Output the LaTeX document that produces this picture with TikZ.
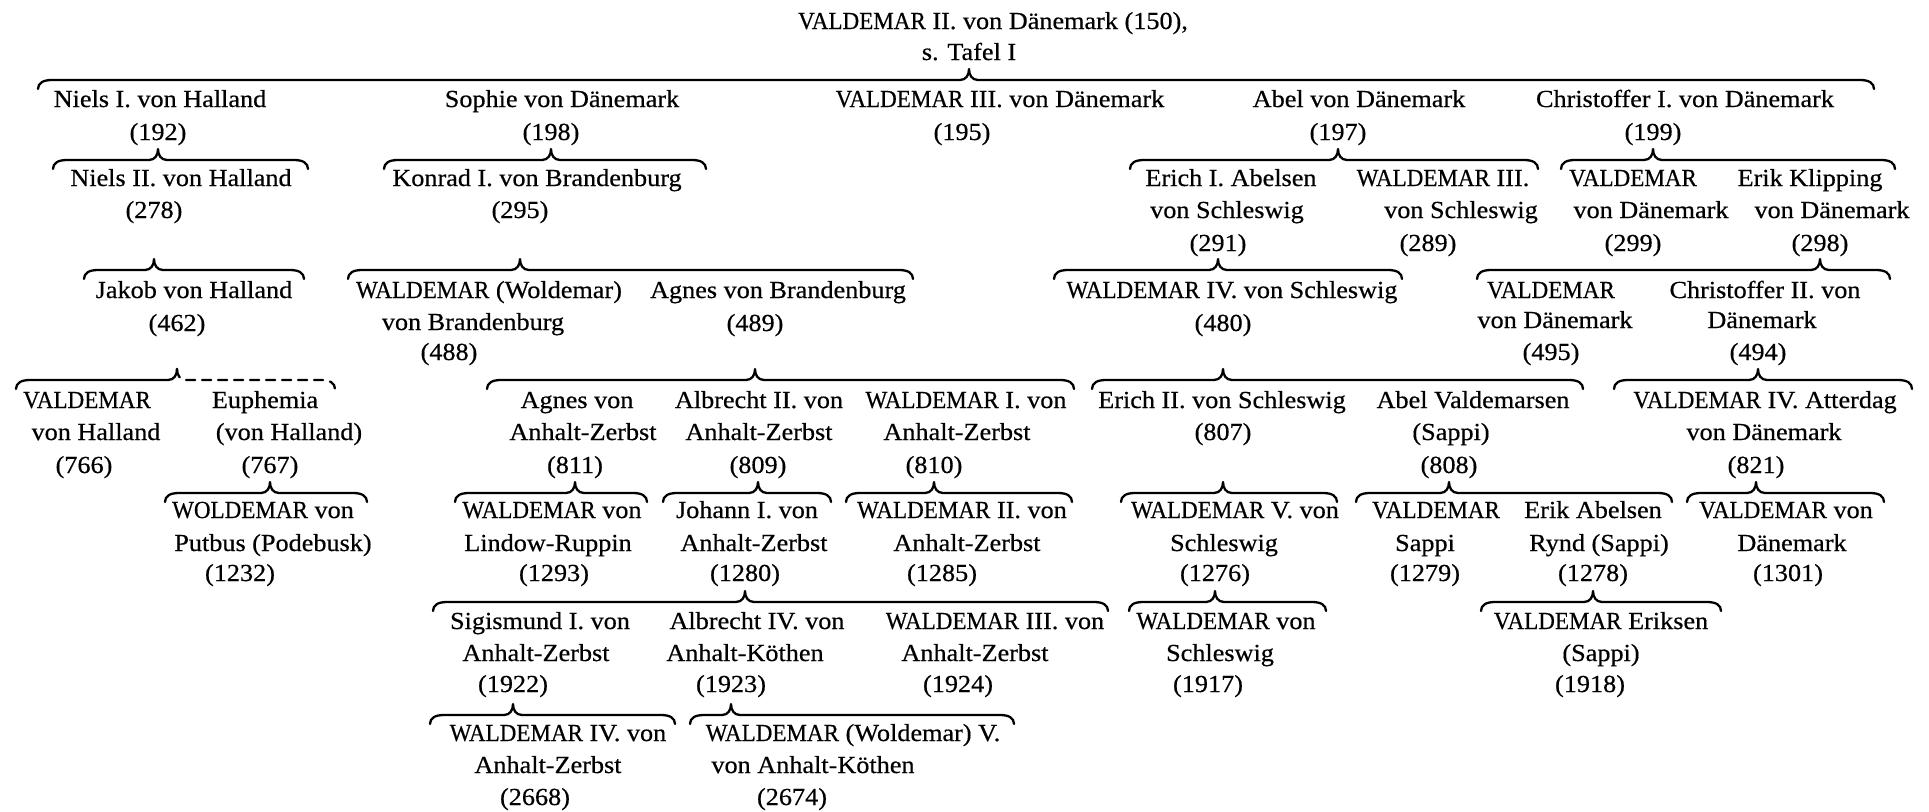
\documentclass[tikz,border=0pt]{standalone}
\usepackage{graphicx}
\usepackage{fontspec}
\setmainfont{Liberation Serif}[FakeStretch=1.07,FakeBold=0.5]
\usetikzlibrary{calc}
\newcommand\cw[1]{\scalebox{0.88}[1]{#1}}
\tikzset{
  t/.style={inner sep=0pt, text height=16pt, text depth=0pt, anchor=center, font=\fontsize{24.5}{29}\selectfont},
  br/.style={line width=2.3pt, line cap=round, line join=round},
  dsh/.style={br, dash pattern=on 9pt off 7pt}
}
\newcommand\brc[4]{\draw[br] (#1,#4+9) .. controls (#1,#4+3) and (#1+5,#4) .. (#1+14,#4) -- ($(#2 |- 0,#4)+(-9,0)$) .. controls +(6,0) and +(0,6) .. ($(#2 |- 0,#4)+(0,-11)$) .. controls +(0,6) and +(-6,0) .. ($(#2 |- 0,#4)+(9,0)$) -- (#3-14,#4) .. controls (#3-5,#4) and (#3,#4+3) .. (#3,#4+9);}
\begin{document}
\begin{tikzpicture}[x=1pt,y=-1pt]
\useasboundingbox (0,0) rectangle (1929,811);
% title
\node[t] (title) at (993,21) {\cw{VALDEMAR} II. von Dänemark (150),};
\node[t] (tafel) at (969,52) {s. Tafel I};
% row 1
\node[t] (niels1) at (160,99) {Niels I. von Halland};
\node[t] (n192) at (158,132) {(192)};
\node[t] (sophie) at (562,99) {Sophie von Dänemark};
\node[t] (n198) at (551,132) {(198)};
\node[t] (vald3) at (1000,99) {\cw{VALDEMAR} III. von Dänemark};
\node[t] (n195) at (962,132) {(195)};
\node[t] (abel) at (1359,99) {Abel von Dänemark};
\node[t] (n197) at (1338,132) {(197)};
\node[t] (chr1) at (1685,99) {Christoffer I. von Dänemark};
\node[t] (n199) at (1653,132) {(199)};
% row 2
\node[t] (niels2) at (181,178) {Niels II. von Halland};
\node[t] (n278) at (154,210) {(278)};
\node[t] (konrad) at (537,178) {Konrad I. von Brandenburg};
\node[t] (n295) at (520,210) {(295)};
\node[t] (erich1a) at (1231,178) {Erich I. Abelsen};
\node[t] (erich1b) at (1227,210) {von Schleswig};
\node[t] (n291) at (1218,243) {(291)};
\node[t] (w3sa) at (1443,178) {\cw{WALDEMAR} III.};
\node[t] (w3sb) at (1461,210) {von Schleswig};
\node[t] (n289) at (1428,243) {(289)};
\node[t] (v299a) at (1633,178) {\cw{VALDEMAR}};
\node[t] (v299b) at (1651,210) {von Dänemark};
\node[t] (n299) at (1633,243) {(299)};
\node[t] (erikka) at (1810,178) {Erik Klipping};
\node[t] (erikkb) at (1832,210) {von Dänemark};
\node[t] (n298) at (1820,243) {(298)};
% row 3
\node[t] (jakob) at (194,290) {Jakob von Halland};
\node[t] (n462) at (177,323) {(462)};
\node[t] (wolda) at (489,290) {\cw{WALDEMAR} (Woldemar)};
\node[t] (woldb) at (473,322) {von Brandenburg};
\node[t] (n488) at (449,352) {(488)};
\node[t] (agnesb) at (778,290) {Agnes von Brandenburg};
\node[t] (n489) at (755,323) {(489)};
\node[t] (w4s) at (1232,290) {\cw{WALDEMAR} IV. von Schleswig};
\node[t] (n480) at (1223,323) {(480)};
\node[t] (v495a) at (1551,290) {\cw{VALDEMAR}};
\node[t] (v495b) at (1555,320) {von Dänemark};
\node[t] (n495) at (1551,352) {(495)};
\node[t] (chr2a) at (1765,290) {Christoffer II. von};
\node[t] (chr2b) at (1762,320) {Dänemark};
\node[t] (n494) at (1758,352) {(494)};
% row 4
\node[t] (v766a) at (87,400) {\cw{VALDEMAR}};
\node[t] (v766b) at (96,432) {von Halland};
\node[t] (n766) at (84,465) {(766)};
\node[t] (eupha) at (265,400) {Euphemia};
\node[t] (euphb) at (289,432) {(von Halland)};
\node[t] (n767) at (270,465) {(767)};
\node[t] (agaa) at (577,400) {Agnes von};
\node[t] (agab) at (583,432) {Anhalt-Zerbst};
\node[t] (n811) at (575,465) {(811)};
\node[t] (alb2a) at (759,400) {Albrecht II. von};
\node[t] (alb2b) at (759,432) {Anhalt-Zerbst};
\node[t] (n809) at (758,465) {(809)};
\node[t] (w1a) at (966,400) {\cw{WALDEMAR} I. von};
\node[t] (w1b) at (957,432) {Anhalt-Zerbst};
\node[t] (n810) at (934,465) {(810)};
\node[t] (erich2) at (1222,400) {Erich II. von Schleswig};
\node[t] (n807) at (1223,432) {(807)};
\node[t] (abva) at (1473,400) {Abel Valdemarsen};
\node[t] (abvb) at (1451,432) {(Sappi)};
\node[t] (n808) at (1449,465) {(808)};
\node[t] (atta) at (1765,400) {\cw{VALDEMAR} IV. Atterdag};
\node[t] (attb) at (1764,432) {von Dänemark};
\node[t] (n821) at (1756,465) {(821)};
% row 5
\node[t] (puta) at (263,510) {\cw{WOLDEMAR} von};
\node[t] (putb) at (273,543) {Putbus (Podebusk)};
\node[t] (n1232) at (240,573) {(1232)};
\node[t] (lina) at (552,510) {\cw{WALDEMAR} von};
\node[t] (linb) at (548,543) {Lindow-Ruppin};
\node[t] (n1293) at (554,573) {(1293)};
\node[t] (joha) at (747,510) {Johann I. von};
\node[t] (johb) at (754,543) {Anhalt-Zerbst};
\node[t] (n1280) at (745,573) {(1280)};
\node[t] (w2a) at (962,510) {\cw{WALDEMAR} II. von};
\node[t] (w2b) at (967,543) {Anhalt-Zerbst};
\node[t] (n1285) at (942,573) {(1285)};
\node[t] (w5a) at (1235,510) {\cw{WALDEMAR} V. von};
\node[t] (w5b) at (1224,543) {Schleswig};
\node[t] (n1276) at (1215,573) {(1276)};
\node[t] (vsa) at (1436,510) {\cw{VALDEMAR}};
\node[t] (vsb) at (1425,543) {Sappi};
\node[t] (n1279) at (1425,573) {(1279)};
\node[t] (eaa) at (1593,510) {Erik Abelsen};
\node[t] (eab) at (1599,543) {Rynd (Sappi)};
\node[t] (n1278) at (1593,573) {(1278)};
\node[t] (v13a) at (1786,510) {\cw{VALDEMAR} von};
\node[t] (v13b) at (1792,543) {Dänemark};
\node[t] (n1301) at (1788,573) {(1301)};
% row 6
\node[t] (siga) at (540,621) {Sigismund I. von};
\node[t] (sigb) at (536,653) {Anhalt-Zerbst};
\node[t] (n1922) at (513,684) {(1922)};
\node[t] (alb4a) at (757,621) {Albrecht IV. von};
\node[t] (alb4b) at (745,653) {Anhalt-Köthen};
\node[t] (n1923) at (731,684) {(1923)};
\node[t] (w3aa) at (995,621) {\cw{WALDEMAR} III. von};
\node[t] (w3ab) at (975,653) {Anhalt-Zerbst};
\node[t] (n1924) at (958,684) {(1924)};
\node[t] (wsca) at (1226,621) {\cw{WALDEMAR} von};
\node[t] (wscb) at (1220,653) {Schleswig};
\node[t] (n1917) at (1208,684) {(1917)};
\node[t] (vera) at (1601,621) {\cw{VALDEMAR} Eriksen};
\node[t] (verb) at (1601,653) {(Sappi)};
\node[t] (n1918) at (1590,684) {(1918)};
% row 7
\node[t] (w4aa) at (558,733) {\cw{WALDEMAR} IV. von};
\node[t] (w4ab) at (548,765) {Anhalt-Zerbst};
\node[t] (n2668) at (535,797) {(2668)};
\node[t] (w5ka) at (853,733) {\cw{WALDEMAR} (Woldemar) V.};
\node[t] (w5kb) at (813,765) {von Anhalt-Köthen};
\node[t] (n2674) at (792,797) {(2674)};
% braces
\brc{38}{tafel}{1874}{80}
\brc{53}{n192}{308}{160}
\brc{384}{n198}{706}{160}
\brc{1130}{n197}{1538}{160}
\brc{1561}{n199}{1895}{160}
\brc{84}{n278}{304}{270}
\brc{348}{n295}{913}{270}
\brc{1054}{n291}{1402}{270}
\brc{1477}{n298}{1890}{270}
% (462) half dashed
\draw[br] (16,389) .. controls (16,383) and (21,380) .. (30,380) -- ($(n462 |- 0,380)+(-9,0)$) .. controls +(6,0) and +(0,6) .. ($(n462 |- 0,380)+(0,-11)$);
\draw[dsh] ($(n462 |- 0,380)+(0,-11)$) .. controls +(0,6) and +(-6,0) .. ($(n462 |- 0,380)+(9,0)$) -- (321,380) .. controls (330,380) and (335,383) .. (335,389);
\brc{487}{n489}{1074}{380}
\brc{1092}{n480}{1583}{380}
\brc{1614}{n494}{1912}{380}
\brc{165}{n767}{367}{493}
\brc{455}{n811}{647}{493}
\brc{663}{n809}{831}{493}
\brc{846}{n810}{1072}{493}
\brc{1121}{n807}{1337}{493}
\brc{1356}{n808}{1672}{493}
\brc{1687}{n821}{1884}{493}
\brc{433}{n1280}{1108}{602}
\brc{1129}{n1276}{1326}{602}
\brc{1481}{n1278}{1721}{602}
\brc{430}{n1922}{675}{715}
\brc{690}{n1923}{1014}{715}
\end{tikzpicture}
\end{document}
